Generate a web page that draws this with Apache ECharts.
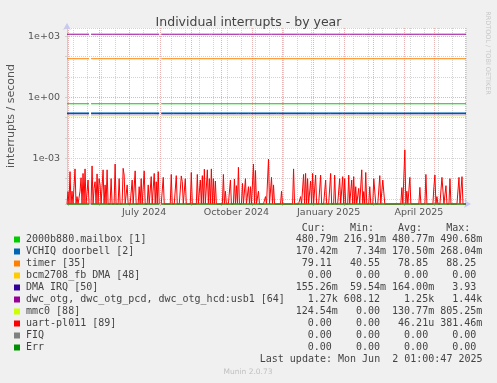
<!DOCTYPE html>
<html>
<head>
<meta charset="utf-8">
<script src="https://cdn.jsdelivr.net/npm/echarts@6/dist/echarts.min.js"></script>
<style>
html,body{margin:0;padding:0;background:#f0f0f0;}
#chart{width:497px;height:383px;}
</style>
</head>
<body>
<div id="chart"></div>
<script>
// ---------------- data ----------------
const startDate = '2024-04-30';
const endDate = '2025-06-02';

const xLabelDates = ['2024-07-16', '2024-10-16', '2025-01-16', '2025-04-16'];
const xLabelTexts = ['July 2024', 'October 2024', 'January 2025', 'April 2025'];

const yMajor = [1e-3, 1, 1e3];

const seriesNames = [
  '2000b880.mailbox [1]', 'VCHIQ doorbell [2]', 'timer [35]', 'bcm2708_fb DMA [48]',
  'DMA IRQ [50]', 'dwc_otg, dwc_otg_pcd, dwc_otg_hcd:usb1 [64]', 'mmc0 [88]',
  'uart-pl011 [89]', 'FIQ', 'Err'
];
const seriesColors = ['#00cc00', '#0066b3', '#ff8000', '#ffcc00', '#330099',
  '#990099', '#ccff00', '#ff0000', '#808080', '#008f00'];

const curVals = ['480.79m', '170.42m', '79.11 ', '0.00 ', '155.26m', '1.27k', '124.54m', '0.00 ', '0.00 ', '0.00 '];
const minVals = ['216.91m', '7.34m', '40.55 ', '0.00 ', '59.54m', '608.12 ', '0.00 ', '0.00 ', '0.00 ', '0.00 '];
const avgVals = ['480.77m', '170.50m', '78.85 ', '0.00 ', '164.00m', '1.25k', '130.77m', '46.21u', '0.00 ', '0.00 '];
const maxVals = ['490.68m', '268.04m', '88.25 ', '0.00 ', '3.93 ', '1.44k', '805.25m', '381.46m', '0.00 ', '0.00 '];

// [date, value] points ('-' = no data)
const mailbox = [['2024-04-30', 0.481], ['2024-05-22', 0.481], ['2024-05-23', '-'], ['2024-05-24', 0.481],
  ['2024-07-31', 0.481], ['2024-08-01', '-'], ['2024-08-02', 0.481], ['2025-06-02', 0.481]];

const vchiq = [['2024-04-30', 0.170], ['2024-05-22', 0.170], ['2024-05-23', '-'], ['2024-05-24', 0.170],
  ['2024-07-31', 0.170], ['2024-08-01', '-'], ['2024-08-02', 0.170], ['2025-06-02', 0.170]];

const timer = [['2024-04-30', 79], ['2024-05-22', 79], ['2024-05-23', '-'], ['2024-05-24', 79],
  ['2024-07-31', 79], ['2024-08-01', '-'], ['2024-08-02', 79],
  ['2025-04-19', 79], ['2025-04-20', 88], ['2025-04-21', 79], ['2025-06-02', 79]];

const bcmDma = [['2024-04-30', 0], ['2024-05-22', 0], ['2024-05-23', '-'], ['2024-05-24', 0],
  ['2024-07-31', 0], ['2024-08-01', '-'], ['2024-08-02', 0], ['2025-06-02', 0]];

const dmaIrq = [['2024-04-30', 0.155],
  ['2024-05-04', 0.155], ['2024-05-05', 0.19], ['2024-05-06', 0.155],
  ['2024-05-08', 0.155], ['2024-05-09', 0.19], ['2024-05-10', 0.155],
  ['2024-05-22', 0.155], ['2024-05-23', '-'], ['2024-05-24', 0.155],
  ['2024-05-27', 0.155], ['2024-05-28', 0.19], ['2024-05-29', 0.155],
  ['2024-06-06', 0.155], ['2024-06-07', 0.19], ['2024-06-08', 0.155],
  ['2024-06-28', 0.155], ['2024-06-29', 0.19], ['2024-06-30', 0.155],
  ['2024-07-23', 0.155], ['2024-07-24', 0.19], ['2024-07-25', 0.155],
  ['2024-07-31', 0.155], ['2024-08-01', '-'], ['2024-08-02', 0.155],
  ['2024-08-12', 0.155], ['2024-08-13', 0.19], ['2024-08-14', 0.155],
  ['2024-09-16', 0.155], ['2024-09-17', 0.19], ['2024-09-18', 0.155],
  ['2024-10-16', 0.155], ['2024-10-17', 0.19], ['2024-10-18', 0.155],
  ['2024-10-28', 0.155], ['2024-10-29', 0.19], ['2024-10-30', 0.155],
  ['2024-11-25', 0.155], ['2024-11-26', 0.19], ['2024-11-27', 0.155],
  ['2024-12-25', 0.155], ['2024-12-26', 0.19], ['2024-12-27', 0.155],
  ['2025-01-16', 0.155], ['2025-01-17', 0.19], ['2025-01-18', 0.155],
  ['2025-01-30', 0.155], ['2025-01-31', 0.19], ['2025-02-01', 0.155],
  ['2025-02-13', 0.155], ['2025-02-14', 0.19], ['2025-02-15', 0.155],
  ['2025-03-13', 0.155], ['2025-03-14', 0.19], ['2025-03-15', 0.155],
  ['2025-03-25', 0.155], ['2025-03-26', 0.19], ['2025-03-27', 0.155],
  ['2025-04-16', 0.155], ['2025-04-17', 0.19], ['2025-04-18', 0.155],
  ['2025-05-09', 0.155], ['2025-05-10', 0.19], ['2025-05-11', 0.155],
  ['2025-05-26', 0.155], ['2025-05-27', 0.19], ['2025-05-28', 0.155],
  ['2025-06-02', 0.155]];

const dwcOtg = [['2024-04-30', 1270],
  ['2024-05-02', 1270], ['2024-05-03', 1130], ['2024-05-04', 1270],
  ['2024-05-12', 1270], ['2024-05-13', 1130], ['2024-05-14', 1270],
  ['2024-05-22', 1270], ['2024-05-23', '-'], ['2024-05-24', 1270],
  ['2024-05-29', 1270], ['2024-05-30', 1130], ['2024-05-31', 1270],
  ['2024-06-14', 1270], ['2024-06-15', 1130], ['2024-06-16', 1270],
  ['2024-06-24', 1270], ['2024-06-25', 1130], ['2024-06-26', 1270],
  ['2024-07-11', 1270], ['2024-07-12', 1130], ['2024-07-13', 1270],
  ['2024-07-31', 1270], ['2024-08-01', '-'], ['2024-08-02', 1270],
  ['2024-08-10', 1270], ['2024-08-11', 1130], ['2024-08-12', 1270],
  ['2024-08-27', 1270], ['2024-08-28', 1130], ['2024-08-29', 1270],
  ['2024-09-19', 1270], ['2024-09-20', 1130], ['2024-09-21', 1270],
  ['2024-10-19', 1270], ['2024-10-20', 1130], ['2024-10-21', 1270],
  ['2024-11-18', 1270], ['2024-11-19', 1130], ['2024-11-20', 1270],
  ['2024-12-16', 1270], ['2024-12-17', 1130], ['2024-12-18', 1270],
  ['2025-01-05', 1270], ['2025-01-06', 1130], ['2025-01-07', 1270],
  ['2025-02-04', 1270], ['2025-02-05', 1130], ['2025-02-06', 1270],
  ['2025-02-19', 1270], ['2025-02-20', 1130], ['2025-02-21', 1270],
  ['2025-03-30', 1270], ['2025-03-31', 1130], ['2025-04-01', 1270],
  ['2025-04-17', 1270], ['2025-04-18', 1130], ['2025-04-19', 1270],
  ['2025-04-30', 1270], ['2025-05-01', 1130], ['2025-05-02', 1270],
  ['2025-05-27', 1270], ['2025-05-28', 1130], ['2025-05-29', 1270],
  ['2025-06-02', 1270]];

const mmc0 = [['2024-04-30', 0.1245],
  ['2024-05-10', 0.1245], ['2024-05-11', 0.1], ['2024-05-12', 0.1245],
  ['2024-05-22', 0.1245], ['2024-05-23', '-'], ['2024-05-24', 0.1245],
  ['2024-06-16', 0.1245], ['2024-06-17', 0.1], ['2024-06-18', 0.1245],
  ['2024-06-25', 0.1245], ['2024-06-26', 0.1], ['2024-06-27', 0.1245],
  ['2024-07-31', 0.1245], ['2024-08-01', '-'], ['2024-08-02', 0.1245],
  ['2024-08-28', 0.1245], ['2024-08-29', 0.1], ['2024-08-30', 0.1245],
  ['2024-09-14', 0.1245], ['2024-09-15', 0.1], ['2024-09-16', 0.1245],
  ['2024-11-23', 0.1245], ['2024-11-24', 0.1], ['2024-11-25', 0.1245],
  ['2025-01-07', 0.1245], ['2025-01-08', 0.1], ['2025-01-09', 0.1245],
  ['2025-01-27', 0.1245], ['2025-01-28', 0.1], ['2025-01-29', 0.1245],
  ['2025-02-19', 0.1245], ['2025-02-20', 0.1], ['2025-02-21', 0.1245],
  ['2025-03-28', 0.1245], ['2025-03-29', 0.1], ['2025-03-30', 0.1245],
  ['2025-04-27', 0.1245], ['2025-04-28', 0.1], ['2025-04-29', 0.1245],
  ['2025-05-04', 0.1245], ['2025-05-05', 0.1], ['2025-05-06', 0.1245],
  ['2025-06-02', 0.1245]];

const fiq = [['2024-04-30', 0], ['2024-05-22', 0], ['2024-05-23', '-'], ['2024-05-24', 0],
  ['2024-07-31', 0], ['2024-08-01', '-'], ['2024-08-02', 0], ['2025-06-02', 0]];
const err = [['2024-04-30', 0], ['2024-05-22', 0], ['2024-05-23', '-'], ['2024-05-24', 0],
  ['2024-07-31', 0], ['2024-08-01', '-'], ['2024-08-02', 0], ['2025-06-02', 0]];

// daily values, 2024-04-30 .. 2025-06-02 (null = no data)
const uartPl011 = [
  0, 2.3e-5, 0, 2.2e-4, 0, 2.4e-5, 0, 0, 3.0e-4, 0, 1.3e-5, 0, 0, 2.4e-5, 1.1e-4, 0, 1.8e-4, 0, 3.0e-4, 0,
  0, 8.5e-5, 0, null, 0, 4.2e-4, 0, 3.3e-5, 7.0e-5, 0, 1.7e-4, 0, 1.0e-4, 4.9e-5, 0, 0, 2.7e-4, 0, 4.9e-5, 0,
  2.7e-4, 0, 0, 0, 1.0e-4, 0, 0, 0, 5.2e-4, 0, 0, 0, 1.0e-4, 0, 0, 0, 3.2e-4, 1.5e-4, 0, 0,
  4.9e-5, 0, 0, 0, 0, 8.5e-5, 0, 0, 2.4e-4, 0, 0, 0, 4.0e-5, 0, 1.0e-4, 0, 0, 2.4e-4, 0, 0,
  0, 4.9e-5, 0, 0, 1.25e-4, 0, 0, 1.8e-4, 0, 7.0e-5, 0, 2.2e-4, 0, null, 0, 0, 1.15e-4, 0, 0, 0,
  0, 0, 0, 0, 1.6e-4, 0, 0, 0, 0, 1.4e-4, 0, 0, 0, 0, 1.35e-4, 7.0e-5, 0, 0, 1.0e-4, 0,
  0, 0, 0, 0, 2.0e-4, 0, 0, 0, 0, 0, 1.6e-4, 0, 0, 8.5e-5, 0, 1.4e-4, 0, 2.9e-4, 0, 0,
  2.7e-4, 0, 1.0e-4, 0, 3.0e-4, 0, 1.0e-4, 0, 7.6e-5, 0, 0, 0, 0, 0, 0, 0, 1.6e-4, 0, 2.4e-5, 0,
  0, 0, 0, 8.5e-5, 0, 0, 0, 9.6e-5, 0, 4.5e-5, 0, 3.6e-4, 0, 0, 0, 5.8e-5, 0, 0, 1.0e-4, 0,
  0, 4.0e-5, 0, 4.0e-5, 0, 0, 5.2e-4, 0, 2.5e-4, 0, 0, 2.4e-5, 0, 0, 0, 0, 0, 0, 1.3e-5, 0,
  0, 9.2e-4, 0, 0, 1.15e-4, 0, 4.9e-5, 0, 0, 0, 0, 0, 0, 0, 2.4e-5, 0, 0, 0, 0, 0,
  0, 0, 0, 0, 0, 0, 3.0e-4, 0, 0, 0, 0, 0, 0, 1.3e-5, 0, 0, 1.6e-4, 0, 1.8e-4, 0,
  1.0e-4, 0, 0, 7.6e-5, 0, 1.8e-4, 0, 0, 1.5e-4, 0, 0, 0, 0, 1.5e-4, 0, 0, 0, 0, 8.5e-5, 0,
  0, 0, 0, 1.8e-4, 0, 0, 0, 1.5e-4, 0, 0, 0, 0, 1.0e-4, 0, 0, 1.25e-4, 0, 1.0e-4, 0, 0,
  0, 1.5e-4, 0, 0, 8.5e-5, 0, 1.25e-4, 0, 4.0e-5, 0, 0, 3.3e-5, 0, 0, 2.7e-4, 0, 2.3e-5, 0, 2.0e-4, 0,
  0, 0, 4.0e-5, 0, 0, 0, 1.0e-4, 1.0e-4, 0, 0, 0, 0, 1.4e-4, 0, 0, 8.5e-5, 9.6e-5, 0, 0, 0,
  0, 0, 0, 0, 0, 0, 0, 0, 0, 0, 0, 0, 0, 0, 3.6e-5, 0, 0, 2.6e-3, 0, 2.4e-5,
  0, 0, 1.15e-4, 0, 0, 0, 0, 0, 0, 0, 0, 0, 3.7e-5, 0, 0, 0, 0, 0, 1.6e-4, 0,
  0, 0, 0, 0, 0, 0, 4.0e-5, 1.5e-4, 0, 1.3e-5, 0, 0, 0, 0, 1.15e-4, 1.0e-4, 0, 0, 4.5e-5, 0,
  0, 0, 1.0e-4, 0, 0, 0, 0, 0, 0, 0, 0, 1.15e-4, 0, 0, 1.25e-4, 0, 0, 0, 0
];

const lastUpdate = 'Last update: Mon Jun  2 01:00:47 2025';

// ---------------- build ----------------
const days = [];
for (let t = Date.parse(startDate + 'T00:00:00Z'); t <= Date.parse(endDate + 'T00:00:00Z'); t += 86400000) {
  days.push(new Date(t).toISOString().slice(0, 10));
}

const yMin = Math.pow(10, -5.25);
const yMax = Math.pow(10, 3.41);
const floorVal = v => (v === 0 ? yMin : v);
const mapPairs = arr => arr.map(p => [p[0], p[1] === '-' ? '-' : floorVal(p[1])]);

const FONT = 'DejaVu Sans';
const MONO = 'DejaVu Sans Mono';
const MINOR = '#d2d2d2';
const MAJOR = '#ebb2b2';

const isMonthStart = (i, v) => v.slice(8) === '01';
const isMinor = (i, v) => (i - 6) % 14 === 0 && v.slice(8) !== '01';

const seriesData = [
  mapPairs(mailbox), mapPairs(vchiq), mapPairs(timer), mapPairs(bcmDma),
  mapPairs(dmaIrq), mapPairs(dwcOtg), mapPairs(mmc0),
  uartPl011.map(v => (v === null ? '-' : floorVal(v))),
  mapPairs(fiq), mapPairs(err)
];

const series = seriesData.map((d, k) => {
  const s = {
    name: seriesNames[k],
    type: 'line',
    data: d,
    xAxisIndex: 0,
    showSymbol: false,
    symbol: 'none',
    clip: false,
    connectNulls: false,
    animation: false,
    lineStyle: { color: seriesColors[k], width: 1 },
    itemStyle: { color: seriesColors[k] }
  };
  if (k === 0) {
    s.markLine = {
      silent: true,
      symbol: ['none', 'none'],
      animation: false,
      label: { show: false },
      lineStyle: { color: MAJOR, type: [1, 1], width: 1 },
      data: yMajor.map(v => ({ yAxis: v }))
    };
  }
  return s;
});

// legend graphics
const graphics = [];
const rowY0 = 239.5, rowStep = 12;
graphics.push({
  type: 'text', x: 295.7, y: 228.5,
  style: { text: ' Cur:    Min:    Avg:    Max:', font: '10px ' + MONO, fill: '#444', verticalAlign: 'middle' }
});
seriesNames.forEach((n, i) => {
  const y = rowY0 + i * rowStep;
  graphics.push({ type: 'rect', shape: { x: 14, y: y - 3, width: 6, height: 6 }, style: { fill: seriesColors[i] } });
  graphics.push({ type: 'text', x: 26, y: y, style: { text: n, font: '10px ' + MONO, fill: '#444', verticalAlign: 'middle' } });
  const row = curVals[i].padStart(7) + ' ' + minVals[i].padStart(7) + ' ' + avgVals[i].padStart(7) + ' ' + maxVals[i].padStart(7);
  graphics.push({ type: 'text', x: 295.7, y: y, style: { text: row, font: '10px ' + MONO, fill: '#444', verticalAlign: 'middle' } });
});
graphics.push({
  type: 'text', x: 482.5, y: 359.8,
  style: { text: lastUpdate, font: '10px ' + MONO, fill: '#444', align: 'right', verticalAlign: 'middle' }
});
graphics.push({
  type: 'text', x: 248, y: 372,
  style: { text: 'Munin 2.0.73', font: '7.5px ' + FONT, fill: '#c0c0c0', align: 'center', verticalAlign: 'middle' }
});
graphics.push({
  type: 'text', x: 488, y: 53, rotation: -Math.PI / 2,
  style: { text: 'RRDTOOL / TOBI OETIKER', font: '6.5px ' + FONT, fill: '#c8c8c8', align: 'center', verticalAlign: 'middle' }
});

const chart = echarts.init(document.getElementById('chart'), null, { renderer: 'canvas', width: 497, height: 383 });

chart.setOption({
  backgroundColor: '#f0f0f0',
  animation: false,
  textStyle: { fontFamily: FONT },
  title: {
    text: 'Individual interrupts - by year',
    left: 'center',
    top: 11,
    textStyle: { fontFamily: FONT, fontSize: 12.5, fontWeight: 'normal', color: '#444' }
  },
  grid: {
    left: 67, right: 31, top: 28, bottom: 179,
    show: true, backgroundColor: '#ffffff', borderWidth: 0,
    containLabel: false, outerBoundsMode: 'none'
  },
  xAxis: [
    {
      type: 'category',
      data: days,
      boundaryGap: false,
      axisLine: {
        show: true, onZero: false,
        lineStyle: { color: '#c8c8f0', width: 1 },
        symbol: ['none', 'arrow'], symbolSize: [6, 7], symbolOffset: [0, 5]
      },
      axisTick: { show: true, interval: isMonthStart, length: 2, lineStyle: { color: MAJOR } },
      axisLabel: {
        interval: (i, v) => xLabelDates.indexOf(v) >= 0,
        formatter: v => xLabelTexts[xLabelDates.indexOf(v)] || '',
        color: '#555', fontSize: 9.5, fontFamily: FONT, margin: 4
      },
      splitLine: { show: true, interval: isMonthStart, lineStyle: { color: MAJOR, type: [1, 1], width: 1 } }
    },
    {
      type: 'category',
      data: days,
      boundaryGap: false,
      position: 'top',
      axisLine: { show: false },
      axisTick: { show: false },
      axisLabel: { show: false },
      splitLine: { show: true, interval: isMinor, lineStyle: { color: MINOR, type: [1, 1], width: 1 } }
    }
  ],
  yAxis: {
    type: 'log',
    logBase: 10,
    min: yMin,
    max: yMax,
    name: 'interrupts / second',
    nameLocation: 'middle',
    nameGap: 50,
    nameTextStyle: { fontFamily: FONT, fontSize: 11, color: '#555' },
    axisLine: {
      show: true,
      lineStyle: { color: '#c8c8f0', width: 1 },
      symbol: ['none', 'arrow'], symbolSize: [6, 7], symbolOffset: [0, 5]
    },
    axisTick: { show: true, length: 2, lineStyle: { color: MINOR } },
    axisLabel: {
      color: '#555', fontSize: 9.5, fontFamily: FONT, margin: 7,
      formatter: v => {
        const l = Math.log10(v);
        const e = Math.round(l);
        if (Math.abs(l - e) > 1e-6 || e % 3 !== 0) return '';
        return '1e' + (e < 0 ? '-' : '+') + String(Math.abs(e)).padStart(2, '0');
      }
    },
    splitLine: { show: true, lineStyle: { color: MINOR, type: [1, 1], width: 1 } },
    minorTick: { show: false },
    minorSplitLine: { show: false }
  },
  series: series,
  graphic: graphics
});
</script>
</body>
</html>
